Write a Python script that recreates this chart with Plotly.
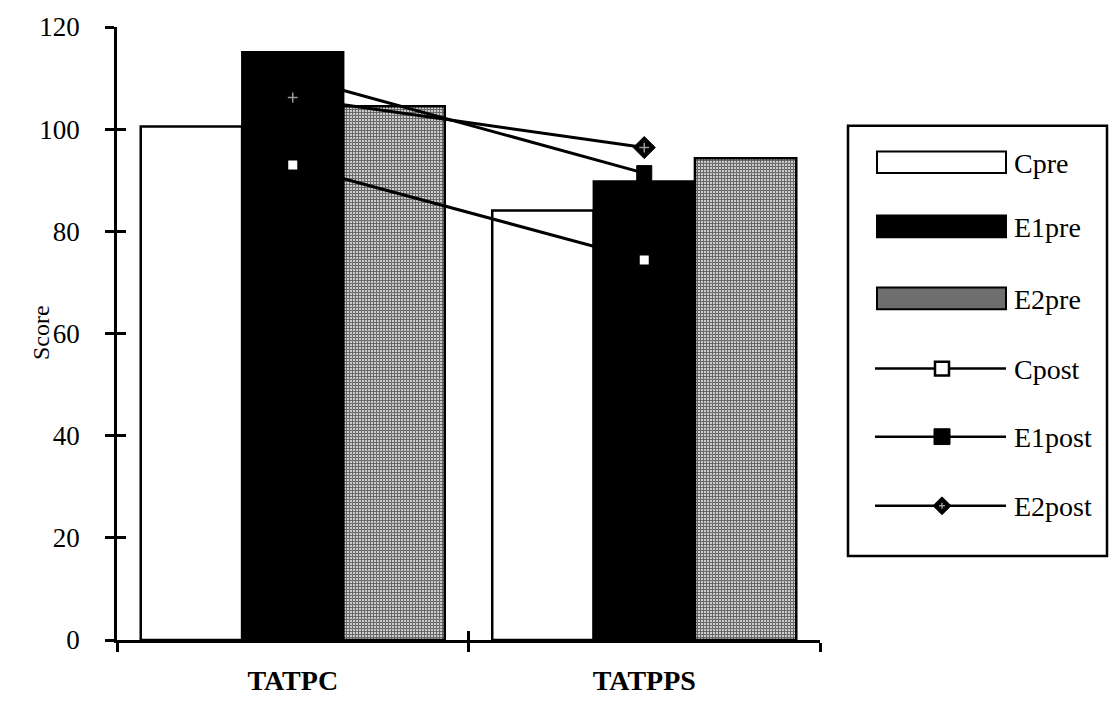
import plotly.graph_objects as go

# Mean scores per test, pre (bars) and post (lines) for each group
categories = ["TATPC", "TATPPS"]
cpre = [100.5, 84.1]
e1pre = [115.1, 89.8]
e2pre = [104.5, 94.3]
cpost = [93.0, 74.4]
e1post = [110.3, 91.4]
e2post = [106.2, 96.4]
y_ticks = [0, 20, 40, 60, 80, 100, 120]

W, H = 1110, 708
ML, MR, MT, MB = 117, 290, 21, 66
PW, PH = W - ML - MR, H - MT - MB
SERIF = "Liberation Serif"
AXW = 2.5
TICKLEN = 9


def px(x):
    return (x - ML) / PW


def py(y):
    return (H - MB - y) / PH


fig = go.Figure()

fig.add_trace(go.Bar(name="Cpre", x=categories, y=cpre,
                     marker=dict(color="white", line=dict(color="black", width=2.5))))
fig.add_trace(go.Bar(name="E1pre", x=categories, y=e1pre,
                     marker=dict(color="black", line=dict(color="black", width=2))))
fig.add_trace(go.Bar(name="E2pre", x=categories, y=e2pre,
                     marker=dict(color="#7a7a7a", line=dict(color="black", width=2.5),
                                 pattern=dict(shape="+", fgcolor="black", bgcolor="#d2d2d2",
                                              size=3, solidity=0.6))))

fig.add_trace(go.Scatter(name="Cpost", x=categories, y=cpost, mode="lines+markers",
                         line=dict(color="black", width=3),
                         marker=dict(symbol="square", size=11, color="white",
                                     line=dict(color="black", width=2))))
fig.add_trace(go.Scatter(name="E1post", x=categories, y=e1post, mode="lines+markers",
                         line=dict(color="black", width=3),
                         marker=dict(symbol="square", size=15, color="black",
                                     line=dict(color="black", width=1))))
fig.add_trace(go.Scatter(name="E2post", x=categories, y=e2post, mode="lines+markers",
                         line=dict(color="black", width=3),
                         marker=dict(symbol="diamond", size=17, color="black",
                                     line=dict(color="black", width=1))))
# small grey cross inside the E2post diamonds, on the overlay axes that carry
# the inner halves of the crossing tick marks
fig.add_trace(go.Scatter(name="E2post", x=categories, y=e2post, mode="markers",
                         xaxis="x2", yaxis="y2",
                         marker=dict(symbol="cross-thin", size=7,
                                     line=dict(color="#9a9a9a", width=1.5)),
                         hoverinfo="skip"))

for tr in fig.data:
    tr.showlegend = False

# Legend box drawn in pixel-based paper coordinates
shapes = [dict(type="rect", xref="paper", yref="paper",
               x0=px(848), x1=px(1107), y0=py(557), y1=py(121),
               line=dict(color="black", width=2.5), fillcolor="white", layer="above")]
annotations = []

sym_x0, sym_x1, text_x = 877, 1006, 1012
rows = [("Cpre", 158), ("E1pre", 223), ("E2pre", 296),
        ("Cpost", 367), ("E1post", 436), ("E2post", 506)]
bar_fills = {"Cpre": "white", "E1pre": "black", "E2pre": "#6e6e6e"}
for name, yc in rows:
    if name in bar_fills:
        shapes.append(dict(type="rect", xref="paper", yref="paper",
                           x0=px(sym_x0), x1=px(sym_x1), y0=py(yc + 11), y1=py(yc - 11),
                           fillcolor=bar_fills[name], line=dict(color="black", width=2),
                           layer="above"))
    else:
        shapes.append(dict(type="line", xref="paper", yref="paper",
                           x0=px(sym_x0 - 2), x1=px(sym_x1), y0=py(yc), y1=py(yc),
                           line=dict(color="black", width=2.5), layer="above"))
        mx = 942
        if name == "Cpost":
            shapes.append(dict(type="rect", xref="paper", yref="paper",
                               x0=px(mx - 7), x1=px(mx + 7), y0=py(yc + 7), y1=py(yc - 7),
                               fillcolor="white", line=dict(color="black", width=2.5),
                               layer="above"))
        elif name == "E1post":
            shapes.append(dict(type="rect", xref="paper", yref="paper",
                               x0=px(mx - 8), x1=px(mx + 8), y0=py(yc + 8), y1=py(yc - 8),
                               fillcolor="black", line=dict(color="black", width=1),
                               layer="above"))
        else:
            d = 9
            path = (f"M {px(mx - d)} {py(yc)} L {px(mx)} {py(yc - d)} "
                    f"L {px(mx + d)} {py(yc)} L {px(mx)} {py(yc + d)} Z")
            shapes.append(dict(type="path", xref="paper", yref="paper", path=path,
                               fillcolor="black", line=dict(color="black", width=1),
                               layer="above"))
            for dx0, dy0, dx1, dy1 in [(-3, 0, 3, 0), (0, -3, 0, 3)]:
                shapes.append(dict(type="line", xref="paper", yref="paper",
                                   x0=px(mx + dx0), x1=px(mx + dx1),
                                   y0=py(yc + dy0), y1=py(yc + dy1),
                                   line=dict(color="#9a9a9a", width=1.5), layer="above"))
    annotations.append(dict(text=name, xref="paper", yref="paper",
                            x=px(text_x), y=py(yc + 1), xanchor="left", yanchor="middle",
                            showarrow=False, font=dict(family=SERIF, size=28, color="black")))

# y-axis title
annotations.append(dict(text="Score", xref="paper", yref="paper", x=px(41), y=py(331),
                        xanchor="center", yanchor="middle", textangle=-90, showarrow=False,
                        font=dict(family=SERIF, size=24, color="black")))

common_x = dict(type="category", categoryorder="array", categoryarray=categories,
                range=[-0.5, 1.5], tickson="boundaries", ticklen=TICKLEN, tickwidth=AXW,
                tickcolor="black", showgrid=False, zeroline=False)
common_y = dict(range=[0, 120], tickvals=y_ticks, ticklen=TICKLEN, tickwidth=AXW,
                tickcolor="black", showgrid=False, zeroline=False)

fig.update_layout(
    width=W, height=H,
    margin=dict(l=ML, r=MR, t=MT, b=MB, pad=0),
    paper_bgcolor="white", plot_bgcolor="white",
    barmode="group", bargap=0.135, bargroupgap=0,
    showlegend=False,
    font=dict(family=SERIF, color="black"),
    shapes=shapes, annotations=annotations,
    xaxis=dict(**common_x, showline=True, linecolor="black", linewidth=AXW,
               ticks="outside",
               tickfont=dict(family=SERIF, size=28, color="black", weight="bold"),
               ticklabelstandoff=14),
    yaxis=dict(**common_y, showline=True, linecolor="black", linewidth=AXW,
               ticks="outside",
               tickfont=dict(family=SERIF, size=27, color="black"),
               ticklabelstandoff=20),
    xaxis2=dict(**common_x, overlaying="x", anchor="y", side="bottom",
                ticks="inside", showticklabels=False, showline=False),
    yaxis2=dict(**common_y, overlaying="y", anchor="x", side="left",
                ticks="inside", showticklabels=False, showline=False),
)

fig.write_html("out.html")
